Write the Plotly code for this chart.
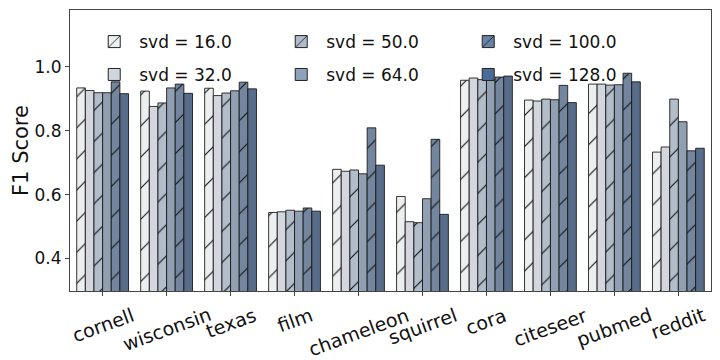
import plotly.graph_objects as go

categories = ["cornell", "wisconsin", "texas", "film", "chameleon", "squirrel",
              "cora", "citeseer", "pubmed", "reddit"]

svd_labels = ["svd = 16.0", "svd = 32.0", "svd = 50.0", "svd = 64.0", "svd = 100.0", "svd = 128.0"]

svd_16 = [0.934, 0.924, 0.933, 0.544, 0.679, 0.594, 0.958, 0.896, 0.946, 0.733]
svd_32 = [0.926, 0.876, 0.910, 0.546, 0.673, 0.515, 0.965, 0.893, 0.946, 0.749]
svd_50 = [0.919, 0.887, 0.918, 0.551, 0.677, 0.512, 0.960, 0.899, 0.943, 0.899]
svd_64 = [0.919, 0.934, 0.925, 0.548, 0.665, 0.587, 0.960, 0.897, 0.944, 0.828]
svd_100 = [0.953, 0.946, 0.952, 0.558, 0.809, 0.773, 0.968, 0.942, 0.980, 0.737]
svd_128 = [0.916, 0.917, 0.931, 0.548, 0.692, 0.538, 0.971, 0.888, 0.953, 0.745]

series = [svd_16, svd_32, svd_50, svd_64, svd_100, svd_128]
bar_colors = ["#eceef0", "#d2d7de", "#b2bdc9", "#909fb2", "#74869e", "#586d89"]
legend_colors = ["#eeeff1", "#d0d6de", "#b0bccb", "#8ea3bb", "#6a82a5", "#4b6b98"]
hatched = [True, False, True, False, True, False]

FONT = "DejaVu Sans"
fig = go.Figure()

for vals, name, col, h in zip(series, svd_labels, bar_colors, hatched):
    pattern = dict(shape="/" if h else "", fgcolor="#111111", bgcolor=col,
                   size=22, solidity=0.05, fillmode="replace")
    fig.add_trace(go.Bar(
        x=categories, y=vals, name=name, showlegend=False,
        marker=dict(color=col, line=dict(color="rgba(20,20,20,0.85)", width=1),
                    pattern=pattern),
    ))

# legend-only traces (two rows, column-major like the reference), on hidden axes
rows = {"legend": [0, 2, 4], "legend2": [1, 3, 5]}
for leg, idxs in rows.items():
    for i in idxs:
        h = hatched[i]
        fig.add_trace(go.Bar(
            x=[None], y=[None], name=svd_labels[i], legend=leg, showlegend=True,
            xaxis="x2", yaxis="y2",
            marker=dict(color=legend_colors[i], line=dict(color="#222222", width=1),
                        pattern=dict(shape="/" if h else "", fgcolor="#111111",
                                     bgcolor=legend_colors[i], size=10, solidity=0.1,
                                     fillmode="replace")),
        ))

legend_common = dict(orientation="h", xanchor="left", yanchor="middle",
                     entrywidth=132, entrywidthmode="pixels",
                     font=dict(family=FONT, size=17, color="#111111"),
                     bgcolor="rgba(255,255,255,0)", itemwidth=40)

# category labels, centred under each tick and rotated like the reference
annotations = [
    dict(x=c, y=-0.035, xref="x", yref="paper", text=c, showarrow=False,
         textangle=-20, xanchor="center", yanchor="top",
         font=dict(family=FONT, size=19, color="#111111"))
    for c in categories
]

fig.update_layout(
    width=712, height=352,
    margin=dict(l=62, r=9, t=2, b=69),
    paper_bgcolor="white", plot_bgcolor="white",
    barmode="group", bargap=0.19, bargroupgap=0,
    font=dict(family=FONT, size=16, color="#111111"),
    legend=dict(x=0.030, y=0.886, **legend_common),
    legend2=dict(x=0.030, y=0.769, **legend_common),
    annotations=annotations,
    xaxis=dict(range=[-0.51, 9.51], showline=True, linecolor="#444444", linewidth=1,
               mirror=True, ticks="outside", ticklen=4, tickcolor="#444444",
               showticklabels=False, showgrid=False, automargin=False),
    yaxis=dict(range=[0.298, 1.178], showline=True, linecolor="#444444", linewidth=1,
               mirror=True, ticks="outside", ticklen=4, tickcolor="#444444",
               tickvals=[0.4, 0.6, 0.8, 1.0], ticktext=["0.4", "0.6", "0.8", "1.0"],
               tickfont=dict(family=FONT, size=17), showgrid=False, zeroline=False,
               automargin=False,
               title=dict(text="F1 Score", font=dict(family=FONT, size=21), standoff=0)),
    xaxis2=dict(overlaying="x", visible=False, range=[0, 1]),
    yaxis2=dict(overlaying="y", visible=False, range=[0, 1]),
)

fig.write_html("out.html")
